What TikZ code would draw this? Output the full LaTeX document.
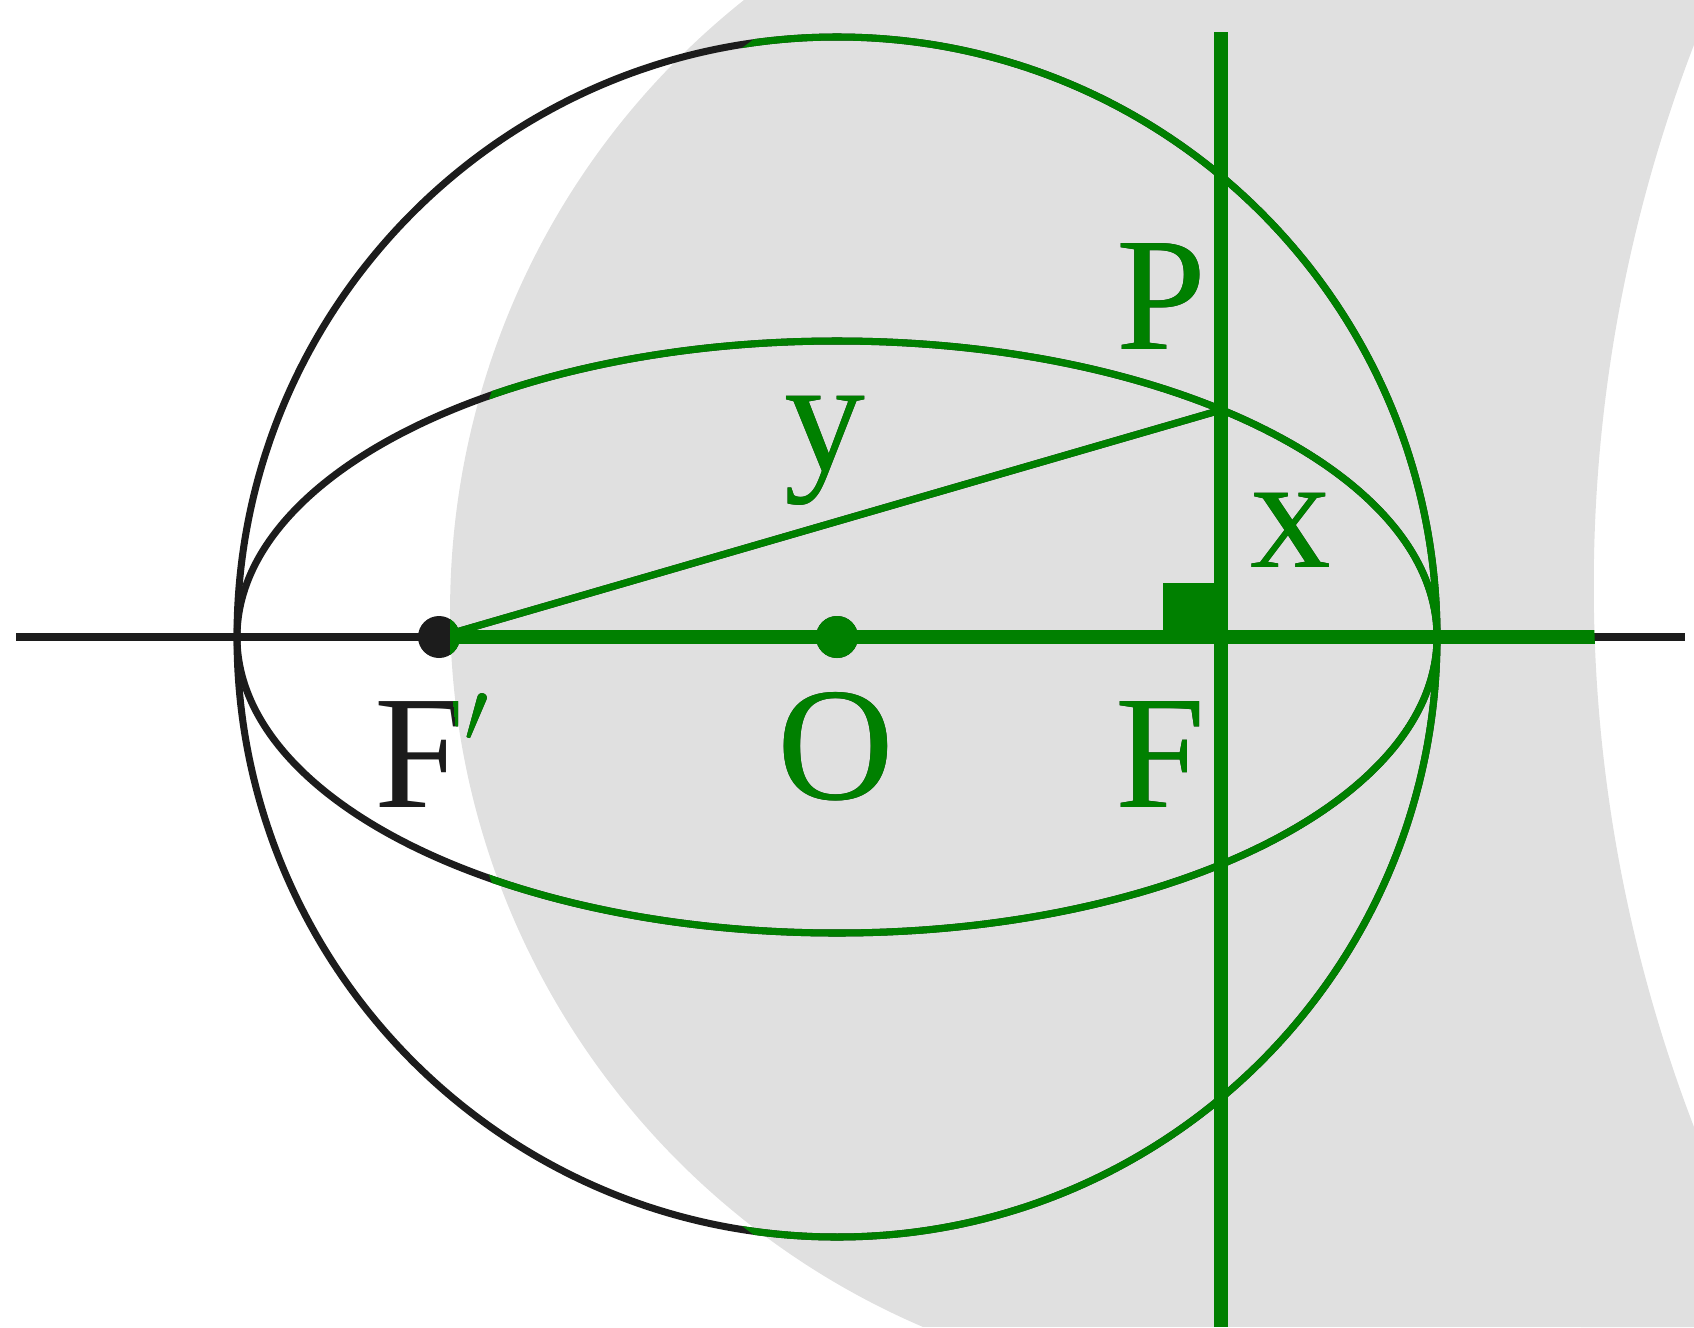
\documentclass[tikz,border=0pt]{standalone}
\usepackage{fontspec}
\setmainfont{Liberation Serif}

\definecolor{figgreen}{RGB}{0,128,0}
\definecolor{figgray}{RGB}{224,224,224}
\definecolor{figblack}{RGB}{28,28,28}

% the whole construction, painted once in black and once in green
\newcommand{\ellfigure}{%
    % circle and ellipse
    \draw[curve] (O) circle[radius=600];
    \draw[curve] (O) ellipse[x radius=600, y radius=296];
    % axis and the line through F
    \draw[axisline] (axL) -- (axR);
    \draw[vline] (vT) -- (vB);
    % focal radius
    \draw[curve] (Fp) -- (P);
    % right angle mark and points
    \fill (1163,583) rectangle (F);
    \fill (Fp) circle[radius=21];
    \fill (O) circle[radius=21];
    % labels
    \node[lbl] (labP) at (1161,349) {P};
    \node[lbl] (laby) at (825,470) {y};
    \node[lbl] (labx) at (1291,567) {x};
    \node[lbl, anchor=base west] (labFp) at (374,807) {F\raisebox{0.2em}{$'$}};
    \node[lbl] (labO) at (836,799) {O};
    \node[lbl] (labF) at (1160,807) {F};
}

\begin{document}
\begin{tikzpicture}[
    x=0.01cm, y=-0.01cm,
    curve/.style={line width=2pt},
    axisline/.style={line width=2.4pt},
    vline/.style={line width=3.8pt},
    lbl/.style={font=\fontsize{46}{50}\selectfont, inner sep=0pt, anchor=base}
]
    \useasboundingbox (0,0) rectangle (1694,1327);

    % gray band behind the figure
    \fill[figgray] (744,0) arc[start angle=231.45, end angle=113.2, radius=780]
        -- (1694,1327) -- (1694,1127) arc[start angle=159, end angle=201, radius=1510]
        -- (1694,0) -- cycle;

    % points
    \coordinate (O) at (837,637);
    \coordinate (Fp) at (439,637);
    \coordinate (F) at (1221,637);
    \coordinate (P) at (1221,410);
    \coordinate (axL) at (16,637);
    \coordinate (axR) at (1685,637);
    \coordinate (vT) at (1221,32);
    \coordinate (vB) at (1221,1327);

    % black drawing
    \begin{scope}[figblack]
        \ellfigure
    \end{scope}

    % green where the highlight lies
    \begin{scope}[figgreen, axisline/.style={line width=3.8pt}]
        \clip (0,0) -- (1694,0) -- (1694,45) arc[start angle=201, end angle=159, radius=1510]
            -- (1694,1327) -- (0,1327) -- cycle;
        \clip (1190,637) circle[radius=740];
        \ellfigure
    \end{scope}
\end{tikzpicture}
\end{document}
